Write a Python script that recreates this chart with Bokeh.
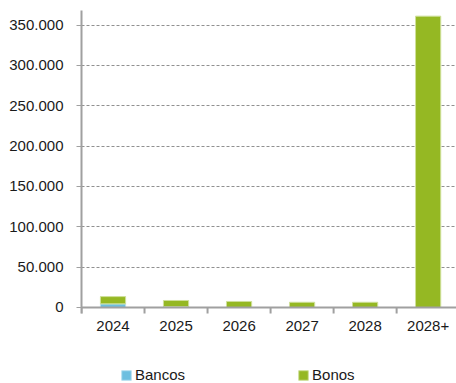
from bokeh.plotting import figure
from bokeh.models import Range1d, FixedTicker, Legend, LegendItem, Span
from bokeh.core.properties import value
from bokeh.embed import file_html
from bokeh.resources import INLINE

categories = ["2024", "2025", "2026", "2027", "2028", "2028+"]
bancos = [4500, 1000, 0, 0, 0, 0]
bonos = [9000, 7700, 7500, 6500, 6500, 361000]
y_ticks = [0, 50000, 100000, 150000, 200000, 250000, 300000, 350000]

xs = [i + 0.5 for i in range(len(categories))]
bounds_x = list(range(len(categories) + 1))
data = dict(x=xs, bancos=bancos, bonos=bonos)

font = "Liberation Sans"
axis_color = "#A0A0A0"

p = figure(width=456, height=383, output_backend="svg", toolbar_location=None,
           x_range=Range1d(0, len(categories) - 0.05), y_range=Range1d(-94170, 368000),
           min_border_left=81, min_border_right=0, min_border_top=10, min_border_bottom=0)
p.outline_line_color = None
p.background_fill_color = "white"
p.border_fill_color = "white"

p.xgrid.grid_line_color = None
p.ygrid.grid_line_color = "#909090"
p.ygrid.grid_line_dash = "3 2"
p.ygrid.grid_line_width = 1
p.ygrid.bounds = (0, 368000)

r = p.vbar_stack(["bancos", "bonos"], x="x", width=0.4, source=data,
                 color=["#6DBFE0", "#95B823"],
                 line_color=["#B8E0F0", "#CFE09A"], line_width=1)

# category axis drawn at zero
p.xaxis.visible = False
p.add_layout(Span(location=0, dimension="width", line_color=axis_color, line_width=2))
p.ray(x=bounds_x, y=0, length=6, length_units="screen", angle=-90, angle_units="deg",
      line_color=axis_color, line_width=2)
p.text(x=xs, y=0, text=categories, text_align="center", text_baseline="top", y_offset=14,
       text_font=value(font), text_font_size="15px", text_color="#1a1a1a")

p.yaxis.ticker = FixedTicker(ticks=y_ticks)
p.yaxis.bounds = (-7000, 368000)
p.yaxis.major_label_overrides = {t: f"{t:,}".replace(",", ".") for t in y_ticks}
p.yaxis.minor_tick_line_color = None
p.yaxis.major_tick_line_color = axis_color
p.yaxis.major_tick_out = 5
p.yaxis.major_tick_in = 0
p.yaxis.axis_line_color = axis_color
p.yaxis.axis_line_width = 2
p.yaxis.major_label_text_font = font
p.yaxis.major_label_text_font_size = "15px"
p.yaxis.major_label_text_color = "#1a1a1a"
p.yaxis.major_label_standoff = 13

legend = Legend(items=[LegendItem(label="Bancos", renderers=[r[0]]),
                       LegendItem(label="Bonos", renderers=[r[1]])],
                orientation="horizontal", location=(39, 0), spacing=112,
                label_text_font=font, label_text_font_size="15px",
                label_text_color="#1a1a1a", glyph_width=12, glyph_height=12,
                label_height=14, label_standoff=3, border_line_color=None,
                padding=0, margin=0, background_fill_alpha=0)
p.add_layout(legend, "center")

open("out.html", "w").write(file_html(p, INLINE))
